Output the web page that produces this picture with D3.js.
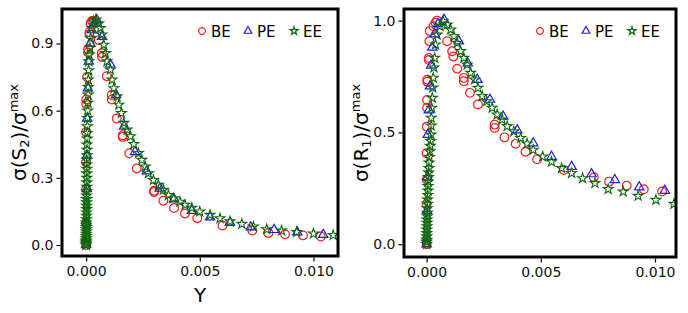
<!DOCTYPE html>
<html>
<head>
<meta charset="utf-8">
<script src="https://cdn.jsdelivr.net/npm/d3@7"></script>
<style>
  body { margin: 0; background: #fff; }
  svg { display: block; }
</style>
</head>
<body>
<svg width="688" height="313"></svg>
<script>
// select the svg
const svg = d3.select("svg");

// series names and colours
const seriesNames = ["BE", "PE", "EE"];

// left panel: sigma(S2)/sigma_max vs Y  -- [x, y]
const s2BE = [
    [0.00000, 0.000], [0.00000, 0.030], [0.00000, 0.100], [0.00000, 0.250], [0.00000, 0.370],
    [0.00000, 0.505], [0.00001, 0.630], [0.00001, 0.650], [0.00004, 0.750], [0.00009, 0.860],
    [0.00009, 0.875], [0.00015, 0.940], [0.00015, 0.950], [0.00020, 0.990], [0.00026, 1.000],
    [0.00032, 1.000], [0.00056, 0.915], [0.00069, 0.856], [0.00070, 0.840], [0.00091, 0.754],
    [0.00113, 0.670], [0.00113, 0.650], [0.00135, 0.565], [0.00161, 0.490], [0.00161, 0.483],
    [0.00190, 0.410], [0.00223, 0.342], [0.00299, 0.242], [0.00299, 0.237], [0.00340, 0.198],
    [0.00387, 0.165], [0.00435, 0.141], [0.00489, 0.120], [0.00600, 0.087], [0.00731, 0.065],
    [0.00802, 0.054], [0.00875, 0.048], [0.00954, 0.043], [0.01032, 0.038]
];
const s2PE = [
    [0.00000, 0.000], [0.00002, 0.100], [0.00003, 0.250], [0.00004, 0.400], [0.00005, 0.565],
    [0.00008, 0.700], [0.00012, 0.820], [0.00018, 0.900], [0.00025, 0.960], [0.00035, 0.990],
    [0.00047, 1.005], [0.00070, 0.930], [0.00106, 0.807], [0.00132, 0.670], [0.00167, 0.530],
    [0.00215, 0.416], [0.00267, 0.330], [0.00325, 0.253], [0.00387, 0.205], [0.00465, 0.153],
    [0.00545, 0.124], [0.00633, 0.100], [0.00724, 0.080], [0.00827, 0.068], [0.00929, 0.057],
    [0.01043, 0.046]
];
const s2EE = [
    [0.00000, 0.000], [0.00000, 0.005], [0.00000, 0.010], [0.00000, 0.015], [0.00000, 0.020],
    [0.00001, 0.030], [0.00001, 0.040], [0.00001, 0.050], [0.00001, 0.060], [0.00001, 0.070],
    [0.00001, 0.080], [0.00001, 0.090], [0.00001, 0.100], [0.00001, 0.115], [0.00002, 0.130],
    [0.00002, 0.145], [0.00002, 0.160], [0.00002, 0.175], [0.00002, 0.190], [0.00002, 0.205],
    [0.00002, 0.220], [0.00002, 0.240], [0.00003, 0.260], [0.00003, 0.280], [0.00003, 0.300],
    [0.00003, 0.320], [0.00003, 0.340], [0.00003, 0.360], [0.00003, 0.380], [0.00004, 0.400],
    [0.00004, 0.425], [0.00004, 0.448], [0.00005, 0.475], [0.00005, 0.500], [0.00005, 0.530],
    [0.00006, 0.567], [0.00007, 0.600], [0.00008, 0.635], [0.00009, 0.671], [0.00010, 0.705],
    [0.00010, 0.738], [0.00011, 0.780], [0.00012, 0.820], [0.00014, 0.850], [0.00017, 0.880],
    [0.00020, 0.924], [0.00025, 0.969], [0.00032, 0.999], [0.00043, 1.006], [0.00055, 0.990],
    [0.00063, 0.969], [0.00070, 0.940], [0.00078, 0.894], [0.00085, 0.857], [0.00092, 0.820],
    [0.00107, 0.783], [0.00114, 0.738], [0.00122, 0.700], [0.00136, 0.664], [0.00144, 0.626],
    [0.00155, 0.589], [0.00166, 0.545], [0.00180, 0.515], [0.00195, 0.485], [0.00210, 0.450],
    [0.00230, 0.410], [0.00245, 0.380], [0.00260, 0.350], [0.00274, 0.320], [0.00296, 0.290],
    [0.00318, 0.268], [0.00340, 0.246], [0.00362, 0.223], [0.00384, 0.208], [0.00413, 0.193],
    [0.00435, 0.179], [0.00465, 0.166], [0.00500, 0.149], [0.00545, 0.134], [0.00589, 0.119],
    [0.00633, 0.105], [0.00685, 0.094], [0.00736, 0.082], [0.00794, 0.070], [0.00860, 0.064],
    [0.00926, 0.058], [0.01000, 0.051], [0.01087, 0.044]
];

// right panel: sigma(R1)/sigma_max vs Y  -- [x, y]
const r1BE = [
    [0.00000, 0.000], [0.00000, 0.020], [0.00000, 0.180], [0.00000, 0.290], [0.00000, 0.407],
    [0.00001, 0.526], [0.00002, 0.610], [0.00002, 0.645], [0.00003, 0.727], [0.00003, 0.736],
    [0.00010, 0.824], [0.00010, 0.833], [0.00012, 0.908], [0.00014, 0.953], [0.00030, 0.975],
    [0.00039, 0.990], [0.00046, 1.000], [0.00090, 0.908], [0.00112, 0.863], [0.00117, 0.840],
    [0.00134, 0.785], [0.00163, 0.744], [0.00163, 0.729], [0.00190, 0.677], [0.00225, 0.625],
    [0.00298, 0.535], [0.00298, 0.520], [0.00341, 0.478], [0.00390, 0.449], [0.00433, 0.414],
    [0.00484, 0.380], [0.00601, 0.332], [0.00732, 0.300], [0.00799, 0.280], [0.00876, 0.262],
    [0.00951, 0.246], [0.01031, 0.236]
];
const r1PE = [
    [0.00000, 0.000], [0.00002, 0.150], [0.00004, 0.300], [0.00005, 0.490], [0.00010, 0.600],
    [0.00015, 0.707], [0.00020, 0.800], [0.00025, 0.880], [0.00035, 0.940], [0.00050, 0.985],
    [0.00076, 1.005], [0.00141, 0.908], [0.00180, 0.810], [0.00222, 0.736], [0.00277, 0.647],
    [0.00335, 0.572], [0.00397, 0.510], [0.00467, 0.452], [0.00547, 0.392], [0.00635, 0.347],
    [0.00722, 0.314], [0.00824, 0.288], [0.00931, 0.255], [0.01043, 0.240]
];
const r1EE = [
    [0.00000, 0.000], [0.00000, 0.010], [0.00001, 0.020], [0.00001, 0.035], [0.00001, 0.050],
    [0.00001, 0.065], [0.00002, 0.080], [0.00002, 0.095], [0.00002, 0.110], [0.00003, 0.125],
    [0.00003, 0.140], [0.00003, 0.160], [0.00004, 0.180], [0.00004, 0.200], [0.00005, 0.220],
    [0.00006, 0.240], [0.00006, 0.260], [0.00007, 0.280], [0.00008, 0.300], [0.00009, 0.320],
    [0.00010, 0.340], [0.00011, 0.365], [0.00012, 0.390], [0.00014, 0.415], [0.00016, 0.440],
    [0.00018, 0.461], [0.00019, 0.490], [0.00020, 0.530], [0.00020, 0.565], [0.00022, 0.610],
    [0.00025, 0.654], [0.00027, 0.700], [0.00029, 0.744], [0.00032, 0.790], [0.00035, 0.833],
    [0.00039, 0.893], [0.00046, 0.937], [0.00058, 0.975], [0.00073, 0.997], [0.00090, 0.982],
    [0.00105, 0.960], [0.00120, 0.930], [0.00134, 0.900], [0.00149, 0.863], [0.00163, 0.833],
    [0.00178, 0.803], [0.00193, 0.766], [0.00210, 0.736], [0.00225, 0.699], [0.00243, 0.662],
    [0.00263, 0.639], [0.00287, 0.610], [0.00309, 0.580], [0.00331, 0.557], [0.00353, 0.528],
    [0.00382, 0.505], [0.00412, 0.475], [0.00440, 0.450], [0.00467, 0.422], [0.00508, 0.392],
    [0.00547, 0.369], [0.00591, 0.340], [0.00635, 0.318], [0.00683, 0.295], [0.00737, 0.273],
    [0.00795, 0.246], [0.00861, 0.235], [0.00926, 0.216], [0.01004, 0.198], [0.01083, 0.180]
];

// tick values
const xTicks = [0, 0.005, 0.010];
const s2Ticks = [0, 0.3, 0.6, 0.9];
const r1Ticks = [0, 0.5, 1.0];

const font = "DejaVu Sans, sans-serif";
const colors = { BE: "#ff1a1a", PE: "#1a1aff", EE: "#0e680e" };
const strokes = { BE: 1.2, PE: 1.2, EE: 1.1 };
const shapes = {
    BE: d3.symbol().type(d3.symbolCircle).size(60),
    PE: d3.symbol().type(d3.symbolTriangle).size(38),
    EE: d3.symbol().type(d3.symbolStar).size(30)
};
const legendShapes = {
    BE: d3.symbol().type(d3.symbolCircle).size(36),
    PE: d3.symbol().type(d3.symbolTriangle).size(26),
    EE: d3.symbol().type(d3.symbolStar).size(20)
};

function drawPanel(cfg) {
    const g = svg.append("g");

    const x = d3.scaleLinear().domain(cfg.xDomain).range([cfg.left, cfg.right]);
    const y = d3.scaleLinear().domain(cfg.yDomain).range([cfg.bottom, cfg.top]);

    // clip
    svg.append("clipPath").attr("id", cfg.id)
        .append("rect")
        .attr("x", cfg.left).attr("y", cfg.top)
        .attr("width", cfg.right - cfg.left).attr("height", cfg.bottom - cfg.top);

    const marks = g.append("g").attr("clip-path", "url(#" + cfg.id + ")");

    // draw points, BE first, EE on top
    seriesNames.forEach(function(name) {
        marks.selectAll(null)
            .data(cfg.series[name])
            .enter()
            .append("path")
            .attr("d", shapes[name])
            .attr("transform", d => "translate(" + x(d[0]) + "," + y(d[1]) + ")")
            .attr("fill", "none")
            .attr("stroke", colors[name])
            .attr("stroke-width", strokes[name]);
    });

    // frame
    g.append("rect")
        .attr("x", cfg.left).attr("y", cfg.top)
        .attr("width", cfg.right - cfg.left).attr("height", cfg.bottom - cfg.top)
        .attr("fill", "none").attr("stroke", "#000").attr("stroke-width", 3);

    // y axis
    const yAxis = d3.axisLeft(y).tickValues(cfg.yTicks).tickFormat(d3.format(".1f"))
        .tickSize(4).tickPadding(3);
    const ya = g.append("g").attr("transform", "translate(" + (cfg.left - 1.5) + ",0)").call(yAxis);
    ya.select(".domain").remove();

    // x axis
    const xAxis = d3.axisBottom(x).tickValues(xTicks).tickFormat(d3.format(".3f"))
        .tickSize(4).tickPadding(5);
    const xa = g.append("g").attr("transform", "translate(0," + (cfg.bottom + 1.5) + ")").call(xAxis);
    xa.select(".domain").remove();

    g.selectAll(".tick text").attr("font-family", font).attr("font-size", 14).attr("fill", "#111");
    g.selectAll(".tick line").attr("stroke", "#000").attr("stroke-width", 1.2);

    // y title
    const yt = g.append("text")
        .attr("transform", "translate(" + (cfg.left - 36) + "," + ((cfg.top + cfg.bottom) / 2) + ") rotate(-90)")
        .attr("text-anchor", "middle")
        .attr("font-family", font).attr("font-size", 20);
    yt.append("tspan").text("σ(" + cfg.letter);
    yt.append("tspan").attr("font-size", 13).attr("dy", 3).text(cfg.sub);
    yt.append("tspan").attr("dy", -3).text(")/σ");
    yt.append("tspan").attr("font-size", 13).attr("dy", -8).text("max");

    // x title
    if (cfg.xTitle) {
        g.append("text")
            .attr("x", (cfg.left + cfg.right) / 2).attr("y", 302)
            .attr("text-anchor", "middle")
            .attr("font-family", font).attr("font-size", 20)
            .text(cfg.xTitle);
    }

    // legend
    const legendX = [cfg.right - 136, cfg.right - 90, cfg.right - 44];
    seriesNames.forEach(function(name, i) {
        g.append("path")
            .attr("d", legendShapes[name])
            .attr("transform", "translate(" + legendX[i] + ",31)")
            .attr("fill", "none").attr("stroke", colors[name]).attr("stroke-width", 1.2);
        g.append("text")
            .attr("x", legendX[i] + 9).attr("y", 36.5)
            .attr("font-family", font).attr("font-size", 15)
            .text(name);
    });
}

drawPanel({
    id: "clipS2", left: 62, right: 338, top: 9, bottom: 256,
    xDomain: [-0.00106, 0.01108], yDomain: [-0.049, 1.054],
    yTicks: s2Ticks, letter: "S", sub: "2", xTitle: "Y",
    series: { BE: s2BE, PE: s2PE, EE: s2EE }
});

drawPanel({
    id: "clipR1", left: 404, right: 676, top: 9, bottom: 257,
    xDomain: [-0.00099, 0.01092], yDomain: [-0.057, 1.052],
    yTicks: r1Ticks, letter: "R", sub: "1", xTitle: null,
    series: { BE: r1BE, PE: r1PE, EE: r1EE }
});
</script>
</body>
</html>
